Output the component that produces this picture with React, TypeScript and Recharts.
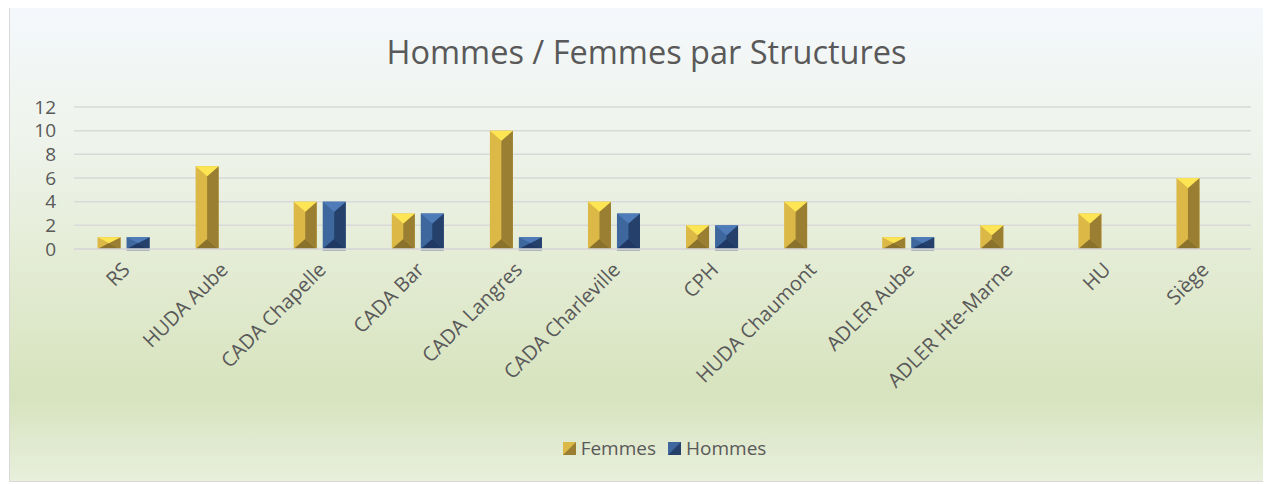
import React from 'react';
import { BarChart, Bar, XAxis, YAxis, CartesianGrid, Legend } from 'recharts';

const structures = [
  'RS', 'HUDA Aube', 'CADA Chapelle', 'CADA Bar', 'CADA Langres', 'CADA Charleville',
  'CPH', 'HUDA Chaumont', 'ADLER Aube', 'ADLER Hte-Marne', 'HU', 'Siège',
];
const femmes = [1, 7, 4, 3, 10, 4, 2, 4, 1, 2, 3, 6];
const hommes = [1, 0, 4, 3, 1, 3, 2, 0, 1, 0, 0, 0];
const yTicks = [0, 2, 4, 6, 8, 10, 12];

const data = structures.map((name, i) => ({ name, Femmes: femmes[i], Hommes: hommes[i] }));

const FONT = '"Open Sans", "Noto Sans", sans-serif';
const TEXT = '#595959';

const palettes: Record<string, { left: string; right: string; top: string; bottom: string }> = {
  Femmes: { left: '#dcb847', right: '#9a7f33', top: '#fde553', bottom: '#8a722c' },
  Hommes: { left: '#3e679e', right: '#24406b', top: '#4f7cb8', bottom: '#1f3864' },
};

// bevelled bar, like the office "cut" style
const bevelShape = (key: string) => (props: any) => {
  const { x, y, width, height } = props;
  if (!height || height <= 0) return <g />;
  const p = palettes[key];
  const b = Math.min(width / 2, height / 2, 10);
  const x2 = x + width;
  const y2 = y + height;
  const cx = x + width / 2;
  return (
    <g>
      <rect x={x} y={y} width={width} height={height} fill={p.left} />
      <polygon points={`${cx},${y + b} ${x2},${y} ${x2},${y2} ${cx},${y2 - b}`} fill={p.right} />
      <polygon points={`${x},${y} ${x2},${y} ${cx},${y + b}`} fill={p.top} />
      <polygon points={`${x},${y2} ${cx},${y2 - b} ${x2},${y2}`} fill={p.bottom} />
      {key === 'Hommes' && <line x1={x} x2={x2} y1={y2 + 1} y2={y2 + 1} stroke="#9aa3b5" strokeWidth={1.5} />}
    </g>
  );
};

const LegendIcon = ({ k }: { k: string }) => {
  const p = palettes[k];
  return (
    <svg width={13} height={13} style={{ marginRight: 5 }}>
      <rect x={0} y={0} width={13} height={13} fill={p.left} />
      <polygon points="0,13 13,0 13,13" fill={p.right} />
    </svg>
  );
};

const renderLegend = () => (
  <div style={{ display: 'flex', justifyContent: 'center', fontFamily: FONT, fontSize: 19, color: TEXT, paddingLeft: 80 }}>
    {['Femmes', 'Hommes'].map((k) => (
      <div key={k} style={{ display: 'flex', alignItems: 'center', margin: '0 12px 0 0' }}>
        <LegendIcon k={k} />
        <span>{k}</span>
      </div>
    ))}
  </div>
);

export default function App() {
  return (
    <div
      style={{
        position: 'relative',
        width: 1257,
        height: 474,
        marginTop: -2,
        marginLeft: 1,
        border: '1px solid #d9d9d9',
        background: 'linear-gradient(to bottom, #f4f8fc 0%, #eef3ea 30%, #e1eacf 60%, #d7e3be 82%, #e8efdc 100%)',
      }}
    >
      <div
        style={{
          position: 'absolute',
          top: 22,
          left: 8,
          width: '100%',
          textAlign: 'center',
          fontFamily: FONT,
          fontSize: 32.5,
          color: TEXT,
        }}
      >
        Hommes / Femmes par Structures
      </div>
      <BarChart
        width={1257}
        height={474}
        data={data}
        margin={{ top: 100, right: 16, bottom: 0, left: 0 }}
        barCategoryGap="24%"
        barGap={6}
      >
        <CartesianGrid vertical={false} stroke="#d9d9d9" strokeWidth={1.5} />
        <XAxis
          dataKey="name"
          interval={0}
          angle={-45}
          textAnchor="end"
          height={186}
          tickLine={false}
          axisLine={{ stroke: '#d9d9d9', strokeWidth: 1.5 }}
          tick={{ fontFamily: FONT, fontSize: 20, fill: TEXT, dx: -2, dy: 4 }}
        />
        <YAxis
          width={64}
          domain={[0, 12]}
          ticks={yTicks}
          interval={0}
          axisLine={false}
          tickLine={false}
          tick={{ fontFamily: FONT, fontSize: 19, fill: TEXT, dx: -10 }}
        />
        <Legend verticalAlign="bottom" height={46} content={renderLegend} />
        <Bar dataKey="Femmes" fill="#dcb847" shape={bevelShape('Femmes')} isAnimationActive={false} />
        <Bar dataKey="Hommes" fill="#3e679e" shape={bevelShape('Hommes')} isAnimationActive={false} />
      </BarChart>
    </div>
  );
}
